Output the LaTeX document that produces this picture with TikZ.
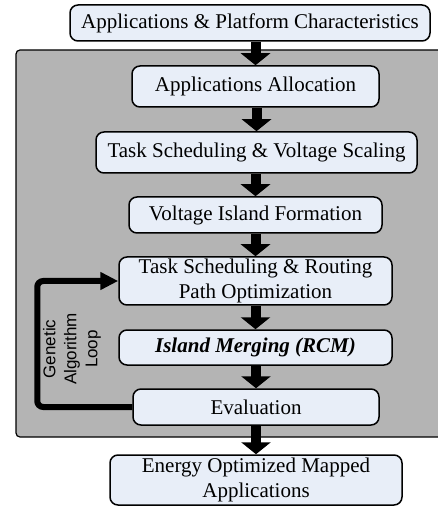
\documentclass[tikz,border=0pt]{standalone}
\usepackage{fontspec}
\setmainfont{Liberation Serif}
\setsansfont{Liberation Sans}
\usetikzlibrary{arrows.meta}
\definecolor{boxfill}{RGB}{232,238,248}
\definecolor{loopgray}{RGB}{180,180,180}
\tikzset{
    stage/.style={draw, rounded corners=4pt, line width=0.75pt, fill=boxfill,
        inner sep=0pt, align=center, font=\fontsize{10.5}{12.5}\selectfont},
    flow/.style={line width=5pt, -{Triangle[width=14.5pt,length=6pt]}},
    galoop/.style={line width=3pt, rounded corners=3pt, -{Triangle[width=8.5pt,length=9pt]}}
}
\begin{document}
\begin{tikzpicture}[x=0.5pt,y=-0.5pt]
    \useasboundingbox (0,0) rectangle (437,506);
    % GA region
    \draw[fill=loopgray, line width=0.6pt, rounded corners=2pt] (16,50) rectangle (450,437);
    % Stages
    \node[stage, minimum width=180pt, minimum height=18pt] (input) at (250,23) {Applications \& Platform Characteristics};
    \node[stage, minimum width=123.5pt, minimum height=20.5pt] (alloc) at (255.5,86.5) {Applications Allocation};
    \node[stage, minimum width=160.5pt, minimum height=20.5pt] (vscale) at (256.5,152.5) {Task Scheduling \& Voltage Scaling};
    \node[stage, minimum width=126.5pt, minimum height=18pt] (vif) at (255.5,215) {Voltage Island Formation};
    \node[stage, minimum width=136.5pt, minimum height=24pt] (route) at (255.5,281) {Task Scheduling \& Routing\\Path Optimization};
    \node[stage, minimum width=136.5pt, minimum height=17.5pt] (merge) at (255.5,347.5) {\textbf{\textit{Island Merging (RCM)}}};
    \node[stage, minimum width=123pt, minimum height=18pt] (eval) at (256,407) {Evaluation};
    \node[stage, minimum width=146pt, minimum height=25pt] (output) at (256,480) {Energy Optimized Mapped\\Applications};
    % Flow
    \draw[flow] (input.south -| alloc.north) -- (alloc.north);
    \foreach \a/\b in {alloc/vscale, vscale/vif, vif/route, route/merge, merge/eval, eval/output}
        \draw[flow] (\a.south -| \b.north) -- (\b.north);
    % Loop
    \draw[galoop] (eval.west) -- ++(-95,0) |- (route.west);
    \node[rotate=90, align=center, font=\sffamily\fontsize{8.5}{10.5}\selectfont] (galabel) at (72,349) {Genetic\\Algorithm\\Loop};
\end{tikzpicture}
\end{document}
